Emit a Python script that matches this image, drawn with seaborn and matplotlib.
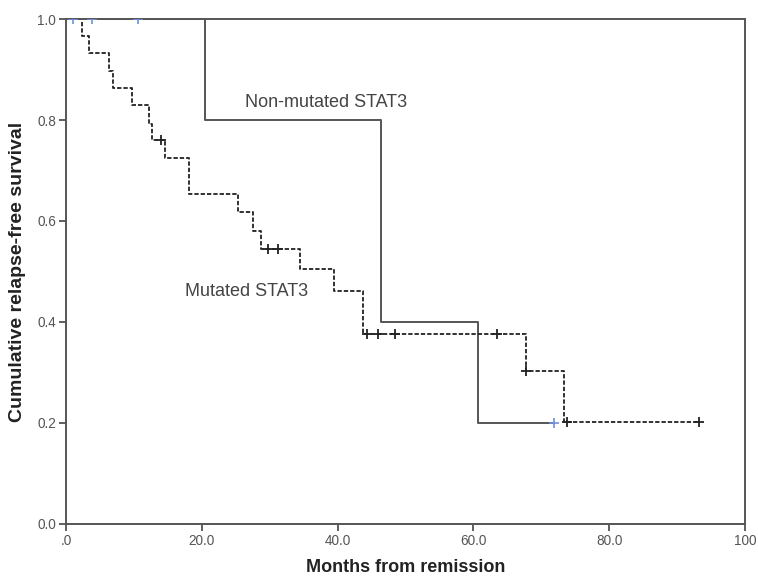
import matplotlib
matplotlib.use("Agg")
import matplotlib.pyplot as plt
import pandas as pd
import seaborn as sns

# step curves (time in months, survival)
mut_times = [0, 2.4, 3.4, 6.4, 6.9, 9.7, 12.2, 12.6, 14.6, 18.1, 25.4, 27.5,
             28.7, 34.4, 39.5, 43.8, 67.7, 73.3, 93.2]
mut_surv = [1.0, 0.967, 0.933, 0.897, 0.863, 0.829, 0.792, 0.760, 0.724, 0.653,
            0.618, 0.581, 0.545, 0.504, 0.462, 0.377, 0.302, 0.202, 0.202]
mut_cens_t = [14.0, 29.8, 31.2, 44.4, 46.0, 48.4, 63.5, 67.7, 73.8, 93.2]
mut_cens_s = [0.760, 0.545, 0.545, 0.377, 0.377, 0.377, 0.377, 0.302, 0.202, 0.202]

non_times = [0, 20.5, 46.4, 60.7, 71.8]
non_surv = [1.0, 0.8, 0.4, 0.2, 0.2]
non_cens_t = [1.1, 3.9, 10.6, 71.8]
non_cens_s = [1.0, 1.0, 1.0, 0.2]

x_ticks = [0, 20, 40, 60, 80, 100]
x_labels = [".0", "20.0", "40.0", "60.0", "80.0", "100"]
y_ticks = [0.0, 0.2, 0.4, 0.6, 0.8, 1.0]
y_labels = ["0.0", "0.2", "0.4", "0.6", "0.8", "1.0"]

sns.set_style("white")
plt.rcParams["font.family"] = ["Liberation Sans", "DejaVu Sans"]

mut = pd.DataFrame({"t": mut_times, "s": mut_surv})
non = pd.DataFrame({"t": non_times, "s": non_surv})
mut_c = pd.DataFrame({"t": mut_cens_t, "s": mut_cens_s})
non_c = pd.DataFrame({"t": non_cens_t, "s": non_cens_s})

fig = plt.figure(figsize=(7.58, 5.77), dpi=100)
ax = fig.add_axes([0.087, 0.092, 0.896, 0.875])

sns.lineplot(data=non, x="t", y="s", ax=ax, drawstyle="steps-post",
             color="#555555", linewidth=1.4)
sns.lineplot(data=mut, x="t", y="s", ax=ax, drawstyle="steps-post",
             color="#222222", linewidth=1.3, linestyle=(0, (2.4, 1.1)))
sns.scatterplot(data=mut_c, x="t", y="s", ax=ax, marker="+", s=60,
                color="#222222", linewidth=1.3, zorder=4)
sns.scatterplot(data=non_c, x="t", y="s", ax=ax, marker="+", s=60,
                color="#6f8fdc", linewidth=1.2, zorder=4)

ax.text(26.4, 0.835, "Non-mutated STAT3", fontsize=13, color="#444444",
        va="center", ha="left")
ax.text(17.5, 0.46, "Mutated STAT3", fontsize=13, color="#444444",
        va="center", ha="left")

ax.set_xlim(0, 100)
ax.set_ylim(0, 1.0)
ax.set_xticks(x_ticks)
ax.set_xticklabels(x_labels)
ax.set_yticks(y_ticks)
ax.set_yticklabels(y_labels)
ax.tick_params(axis="both", direction="out", length=5, width=1.2,
               color="#444444", labelcolor="#555555", labelsize=9.8,
               left=True, bottom=True, pad=2)

for sp in ax.spines.values():
    sp.set_color("#555555")
    sp.set_linewidth(1.4)
    sp.set_visible(True)

ax.set_xlabel("Months from remission", fontsize=13, fontweight="bold",
              color="#222222", labelpad=8)
ax.set_ylabel("Cumulative relapse-free survival", fontsize=14,
              fontweight="bold", color="#222222", labelpad=8)

fig.savefig("out.png", dpi=100)
